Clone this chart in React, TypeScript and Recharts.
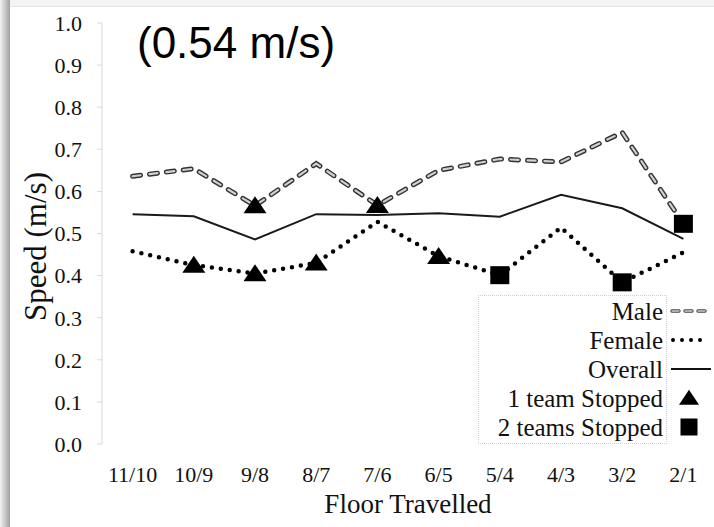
import { ComposedChart, Label, Line, XAxis, YAxis } from "recharts";

const floors = ["11/10", "10/9", "9/8", "8/7", "7/6", "6/5", "5/4", "4/3", "3/2", "2/1"];
const maleSpeed = [0.636, 0.654, 0.566, 0.666, 0.567, 0.65, 0.677, 0.67, 0.74, 0.523];
const femaleSpeed = [0.458, 0.425, 0.405, 0.43, 0.528, 0.446, 0.401, 0.514, 0.384, 0.455];
const overallSpeed = [0.546, 0.541, 0.486, 0.546, 0.544, 0.548, 0.54, 0.592, 0.56, 0.487];
// 0 = none, 1 = one team stopped, 2 = two teams stopped
const maleStops = [0, 0, 1, 0, 1, 0, 0, 0, 0, 2];
const femaleStops = [0, 1, 1, 1, 0, 1, 2, 0, 2, 0];
const speedTicks = [0, 0.1, 0.2, 0.3, 0.4, 0.5, 0.6, 0.7, 0.8, 0.9, 1.0];
const floorEdges = [0, 1, 2, 3, 4, 5, 6, 7, 8, 9, 10];
const legendRows = ["Male", "Female", "Overall", "1 team Stopped", "2 teams Stopped"];
const averageLabel = "(0.54 m/s)";

const rows = floors.map((floor, i) => ({
  floor,
  male: maleSpeed[i],
  female: femaleSpeed[i],
  overall: overallSpeed[i],
  maleStop: maleStops[i],
  femaleStop: femaleStops[i],
}));

const serif = "'Liberation Serif', 'Times New Roman', serif";
const axisGray = "#d9d9d9";

function Triangle({ cx, cy, w, h }: { cx: number; cy: number; w: number; h: number }) {
  return <path d={`M${cx},${cy - h * 0.55} L${cx + w / 2},${cy + h * 0.45} L${cx - w / 2},${cy + h * 0.45} Z`} fill="#000" />;
}

function stopMarker(stopKey: "maleStop" | "femaleStop") {
  return (props: any) => {
    const { cx, cy, payload, index } = props;
    const kind = payload?.[stopKey];
    const key = `${stopKey}-${index}`;
    if (!kind || cx == null || cy == null) return <g key={key} />;
    if (kind === 1) {
      return (
        <g key={key}>
          <Triangle cx={cx} cy={cy} w={23} h={17} />
        </g>
      );
    }
    return <rect key={key} x={cx - 9.5} y={cy - 9} width={19} height={18} fill="#000" />;
  };
}

function LegendSymbol({ row }: { row: number }) {
  if (row === 0) {
    return (
      <svg width={44} height={29}>
        <line x1={5} y1={14} x2={40} y2={14} stroke="#444" strokeWidth={3.4} strokeDasharray="7 6" strokeLinecap="round" />
        <line x1={5} y1={14} x2={40} y2={14} stroke="#d0d0d0" strokeWidth={1.3} strokeDasharray="7 6" strokeLinecap="round" />
      </svg>
    );
  }
  if (row === 1) {
    return (
      <svg width={44} height={29}>
        <line x1={6} y1={14} x2={42} y2={14} stroke="#000" strokeWidth={4} strokeDasharray="0 9" strokeLinecap="round" />
      </svg>
    );
  }
  if (row === 2) {
    return (
      <svg width={44} height={29}>
        <line x1={4} y1={14} x2={44} y2={14} stroke="#111" strokeWidth={2.2} />
      </svg>
    );
  }
  if (row === 3) {
    return (
      <svg width={44} height={29}>
        <Triangle cx={22} cy={14} w={20} h={15} />
      </svg>
    );
  }
  return (
    <svg width={44} height={29}>
      <rect x={13.5} y={5.5} width={17} height={17} fill="#000" />
    </svg>
  );
}

function SpeedLegend() {
  return (
    <div style={{ position: "absolute", left: 478, top: 295, width: 236, height: 149 }}>
      <div
        style={{
          position: "absolute",
          left: 0,
          top: 0,
          width: 189,
          height: 149,
          border: "1px dotted #d0d0d0",
          boxSizing: "border-box",
          background: "#fff",
        }}
      />
      {legendRows.map((name, i) => (
        <div key={name} style={{ position: "absolute", left: 0, top: 2 + i * 29, display: "flex", alignItems: "center" }}>
          <div style={{ width: 185, textAlign: "right", fontFamily: serif, fontSize: 25, lineHeight: "29px", color: "#111", whiteSpace: "nowrap" }}>
            {name}
          </div>
          <div style={{ marginLeft: 4, height: 29 }}>
            <LegendSymbol row={i} />
          </div>
        </div>
      ))}
    </div>
  );
}

export default function App() {
  return (
    <div style={{ position: "absolute", left: 0, top: 0, width: 714, height: 527, background: "#fff", overflow: "hidden" }}>
      <div style={{ position: "absolute", left: 0, top: 0, width: 10, height: 527, background: "linear-gradient(to right, #f2f2f2, #a0a0a0)" }} />
      <div style={{ position: "absolute", left: 10, top: 0, width: 704, height: 6, background: "#f4f4f4", borderBottom: "1px solid #e4e4e4" }} />
      <ComposedChart width={714} height={527} data={rows} margin={{ top: 23, right: 0, left: 0, bottom: 0 }} style={{ position: "absolute", left: 0, top: 0 }}>
        <XAxis
          xAxisId="edges"
          type="number"
          domain={[0, 10]}
          ticks={floorEdges}
          allowDataOverflow
          tick={false}
          tickSize={6}
          height={0}
          axisLine={{ stroke: axisGray }}
          tickLine={{ stroke: axisGray }}
        />
        <XAxis
          xAxisId="floor"
          dataKey="floor"
          scale="band"
          interval={0}
          height={83}
          axisLine={false}
          tickLine={false}
          tickSize={0}
          tickMargin={22}
          tick={{ fontSize: 22, fill: "#111", fontFamily: serif }}
        >
          <Label value="Floor Travelled" position="center" dy={18} style={{ fontSize: 27, fill: "#111", fontFamily: serif }} />
        </XAxis>
        <YAxis
          domain={[0, 1]}
          ticks={speedTicks}
          width={102}
          tickSize={5}
          tickMargin={15}
          tickFormatter={(v: number) => v.toFixed(1)}
          axisLine={{ stroke: axisGray }}
          tickLine={{ stroke: axisGray }}
          tick={{ fontSize: 22, fill: "#111", fontFamily: serif }}
        >
          <Label value="Speed (m/s)" angle={-90} position="center" dx={-16} dy={13} style={{ fontSize: 31, fill: "#111", fontFamily: serif, textAnchor: "middle" }} />
        </YAxis>
        <Line xAxisId="floor" dataKey="overall" stroke="#1a1a1a" strokeWidth={2} dot={false} activeDot={false} isAnimationActive={false} />
        <Line
          xAxisId="floor"
          dataKey="female"
          stroke="#000"
          strokeWidth={4.5}
          strokeDasharray="0 9"
          strokeLinecap="round"
          dot={false}
          activeDot={false}
          isAnimationActive={false}
        />
        <Line
          xAxisId="floor"
          dataKey="male"
          stroke="#333"
          strokeWidth={5}
          strokeDasharray="8 9"
          strokeLinecap="round"
          dot={false}
          activeDot={false}
          isAnimationActive={false}
        />
        <Line
          xAxisId="floor"
          dataKey="male"
          stroke="#d0d0d0"
          strokeWidth={2.2}
          strokeDasharray="8 9"
          strokeLinecap="round"
          dot={false}
          activeDot={false}
          isAnimationActive={false}
        />
        <Line xAxisId="floor" dataKey="male" stroke="none" dot={stopMarker("maleStop")} activeDot={false} isAnimationActive={false} />
        <Line xAxisId="floor" dataKey="female" stroke="none" dot={stopMarker("femaleStop")} activeDot={false} isAnimationActive={false} />
      </ComposedChart>
      <div style={{ position: "absolute", left: 137, top: 21, fontFamily: "'Liberation Sans', Arial, sans-serif", fontSize: 44, lineHeight: "44px", color: "#000", whiteSpace: "nowrap" }}>
        {averageLabel}
      </div>
      <SpeedLegend />
    </div>
  );
}
